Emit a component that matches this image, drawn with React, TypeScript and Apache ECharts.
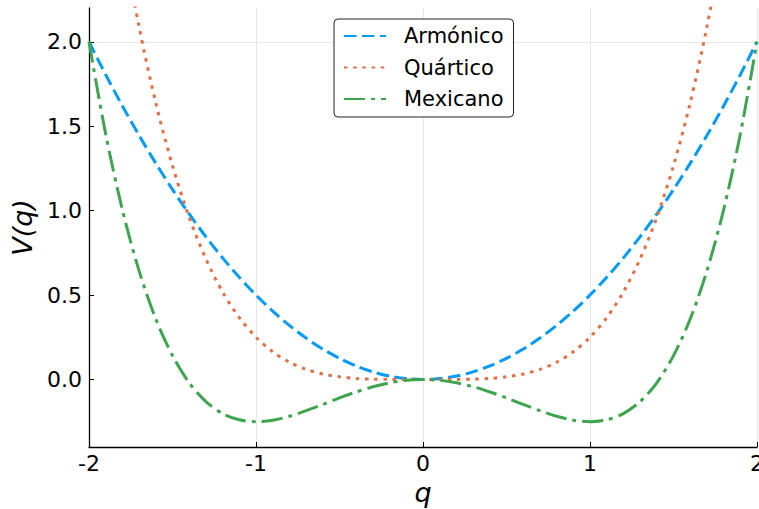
import React, { useEffect, useRef } from "react";
import * as echarts from "echarts";

const qValues = [
  -2.0, -1.9, -1.8, -1.7, -1.6, -1.5, -1.4, -1.3, -1.2, -1.1, -1.0,
  -0.9, -0.8, -0.7, -0.6, -0.5, -0.4, -0.3, -0.2, -0.1, 0.0,
  0.1, 0.2, 0.3, 0.4, 0.5, 0.6, 0.7, 0.8, 0.9, 1.0,
  1.1, 1.2, 1.3, 1.4, 1.5, 1.6, 1.7, 1.8, 1.9, 2.0,
];

const armonico = [
  2.0, 1.805, 1.62, 1.445, 1.28, 1.125, 0.98, 0.845, 0.72, 0.605, 0.5,
  0.405, 0.32, 0.245, 0.18, 0.125, 0.08, 0.045, 0.02, 0.005, 0.0,
  0.005, 0.02, 0.045, 0.08, 0.125, 0.18, 0.245, 0.32, 0.405, 0.5,
  0.605, 0.72, 0.845, 0.98, 1.125, 1.28, 1.445, 1.62, 1.805, 2.0,
];

const cuartico = [
  4.0, 3.258, 2.624, 2.088, 1.638, 1.266, 0.96, 0.714, 0.518, 0.366, 0.25,
  0.164, 0.102, 0.06, 0.032, 0.016, 0.006, 0.002, 0.0004, 0.0, 0.0,
  0.0, 0.0004, 0.002, 0.006, 0.016, 0.032, 0.06, 0.102, 0.164, 0.25,
  0.366, 0.518, 0.714, 0.96, 1.266, 1.638, 2.088, 2.624, 3.258, 4.0,
];

const mexicano = [
  2.0, 1.453, 1.004, 0.643, 0.358, 0.141, -0.02, -0.131, -0.202, -0.239, -0.25,
  -0.241, -0.218, -0.185, -0.148, -0.109, -0.074, -0.043, -0.02, -0.005, 0.0,
  -0.005, -0.02, -0.043, -0.074, -0.109, -0.148, -0.185, -0.218, -0.241, -0.25,
  -0.239, -0.202, -0.131, -0.02, 0.141, 0.358, 0.643, 1.004, 1.453, 2.0,
];

const seriesNames = ["Armónico", "Quártico", "Mexicano"];
const seriesColors = ["#009AFA", "#E36F47", "#3EA44E"];
const yTickValues = [0, 0.5, 1, 1.5, 2];
const yTickLabels = ["0.0", "0.5", "1.0", "1.5", "2.0"];
const xTickLabels = ["-2", "-1", "0", "1", "2"];

const FONT = "DejaVu Sans";

export default function App() {
  const ref = useRef<HTMLDivElement>(null);
  useEffect(() => {
    if (!ref.current) return;
    const chart = echarts.init(ref.current, null, { renderer: "svg" });
    const toPairs = (ys: number[]) => qValues.map((q, i) => [q, ys[i]]);
    const dashes: any[] = [
      [12.5, 5.5],
      [3.5, 5.7],
      [21, 6, 4, 6],
    ];
    const data = [armonico, cuartico, mexicano];
    chart.setOption({
      animation: false,
      grid: { left: 89, right: 2, top: 8, bottom: 62, outerBoundsMode: "none", containLabel: false },
      legend: {
        orient: "vertical",
        left: 334,
        top: 19,
        padding: [6, 10, 7, 9],
        itemWidth: 42,
        itemHeight: 14,
        itemGap: 9.5,
        backgroundColor: "#ffffff",
        borderColor: "#222222",
        borderWidth: 1,
        borderRadius: 4,
        itemStyle: { opacity: 0 },
        textStyle: {
          fontFamily: FONT,
          fontSize: 21,
          lineHeight: 22,
          color: "#000",
          padding: [0, 0, 0, 13],
        },
        data: seriesNames,
      },
      xAxis: {
        type: "value",
        min: -2,
        max: 2,
        interval: 1,
        name: "q",
        nameLocation: "middle",
        nameGap: 29,
        nameTextStyle: { fontFamily: FONT, fontSize: 27, fontStyle: "italic", color: "#000" },
        axisLine: { show: true, onZero: false, lineStyle: { color: "#000", width: 1.3 } },
        axisTick: { show: true, inside: true, length: 5, lineStyle: { color: "#000" } },
        axisLabel: {
          fontFamily: FONT,
          fontSize: 22,
          color: "#000",
          margin: 5,
          formatter: (v: number) => xTickLabels[Math.round(v) + 2] ?? "",
        },
        splitLine: { show: true, lineStyle: { color: "#e6e6e6", width: 1 } },
      },
      yAxis: {
        type: "value",
        min: -0.4,
        max: 2.2,
        interval: 0.1,
        name: "V(q)",
        nameLocation: "middle",
        nameGap: 50,
        nameTextStyle: { fontFamily: FONT, fontSize: 27, fontStyle: "italic", color: "#000" },
        axisLine: { show: true, onZero: false, lineStyle: { color: "#000", width: 1.3 } },
        axisTick: {
          show: true,
          inside: true,
          length: 5,
          customValues: yTickValues,
          lineStyle: { color: "#000" },
        },
        axisLabel: {
          fontFamily: FONT,
          fontSize: 22,
          color: "#000",
          margin: 7,
          formatter: (v: number) => {
            const k = Math.round(v * 10);
            if (k >= 0 && k % 5 === 0) return yTickLabels[k / 5] ?? "";
            return "";
          },
        },
        splitLine: {
          show: true,
          lineStyle: {
            color: ["transparent", "transparent", "transparent", "transparent", "#e6e6e6"],
            width: 1,
          },
        },
      },
      series: seriesNames.map((name, i) => ({
        name,
        type: "line",
        data: toPairs(data[i]),
        smooth: 0.3,
        symbol: "none",
        clip: true,
        color: seriesColors[i],
        lineStyle: { color: seriesColors[i], width: 3, type: dashes[i] },
      })),
    });
    return () => chart.dispose();
  }, []);
  return <div ref={ref} style={{ width: 759, height: 509, position: "absolute", left: 0, top: 0 }} />;
}
